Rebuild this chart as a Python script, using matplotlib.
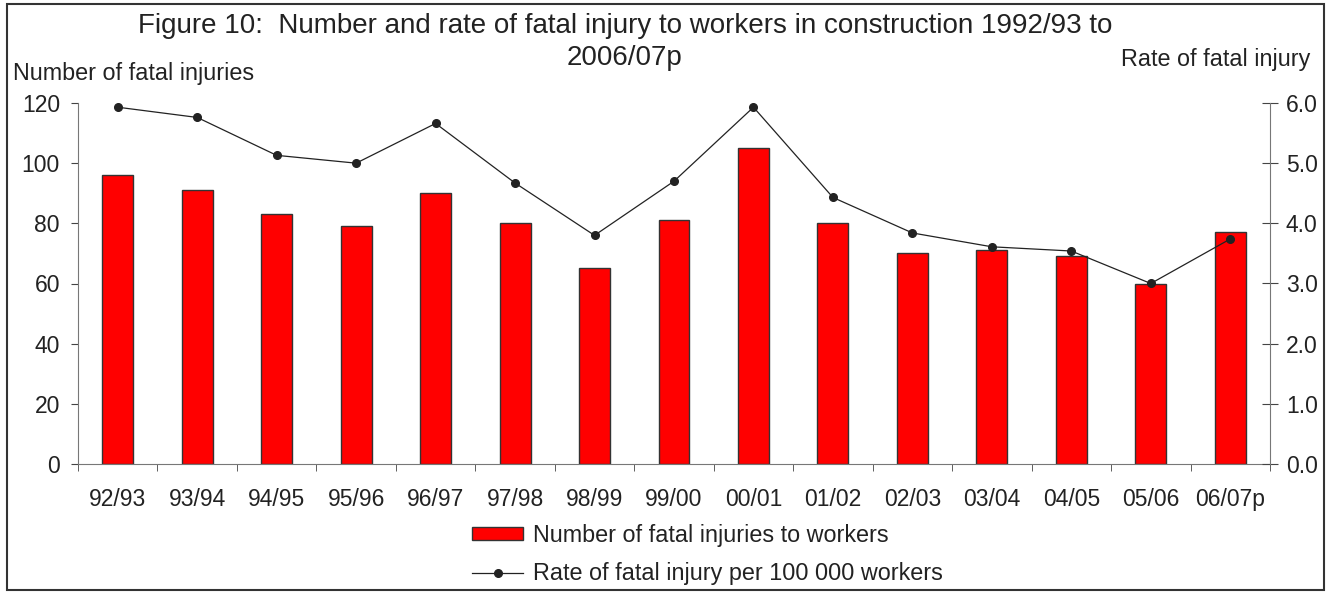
import numpy as np
import matplotlib
matplotlib.use('Agg')
import matplotlib.pyplot as plt
from matplotlib.patches import Rectangle

plt.rcParams['font.family'] = ['Liberation Sans', 'DejaVu Sans']

# data
years = ['92/93', '93/94', '94/95', '95/96', '96/97', '97/98', '98/99', '99/00',
         '00/01', '01/02', '02/03', '03/04', '04/05', '05/06', '06/07p']
fatal_injuries = [96, 91, 83, 79, 90, 80, 65, 81, 105, 80, 70, 71, 69, 60, 77]
fatal_rate = [5.93, 5.76, 5.13, 5.0, 5.66, 4.67, 3.8, 4.7, 5.93, 4.43,
              3.84, 3.61, 3.54, 3.0, 3.74]

W, H = 1334, 592
fig = plt.figure(figsize=(W / 100, H / 100), dpi=100)
text_col = '#222222'
spine_col = '#777777'

# plot area in pixels: left 78, right 1270, top 103, bottom 464
ax = fig.add_axes([78 / W, 1 - 464 / H, (1270 - 78) / W, (464 - 103) / H])
x = np.arange(len(years))

bars = ax.bar(x, fatal_injuries, width=0.39, color='#ff0000', edgecolor='#333333',
              linewidth=1, label='Number of fatal injuries to workers', zorder=2)
ax.set_xlim(-0.5, len(years) - 0.5)
ax.set_ylim(0, 120)
ax.set_yticks(range(0, 121, 20))

ax2 = ax.twinx()
line, = ax2.plot(x, fatal_rate, color='#222222', linewidth=0.9, marker='o',
                 markersize=5.5, label='Rate of fatal injury per 100 000 workers')
ax2.set_ylim(0, 6)
ax2.set_yticks(np.arange(0, 6.01, 1.0))
ax2.set_yticklabels([f'{v:.1f}' for v in np.arange(0, 6.01, 1.0)])

for a in (ax, ax2):
    a.spines['top'].set_visible(False)
ax.spines['right'].set_visible(False)
ax2.spines['left'].set_visible(False)
ax2.spines['bottom'].set_visible(False)
ax.spines['left'].set_color(spine_col)
ax.spines['bottom'].set_color(spine_col)
ax2.spines['right'].set_color(spine_col)

ax.tick_params(axis='y', direction='out', length=5, color='#444444',
               labelsize=16.5, labelcolor=text_col, pad=8)
ax2.tick_params(axis='y', direction='inout', length=11, color='#444444',
                labelsize=16.5, labelcolor=text_col, pad=6)

# category labels centred, tick marks between categories
ax.set_xticks(x)
ax.set_xticklabels(years)
ax.set_xticks(np.arange(-0.5, len(years), 1.0), minor=True)
ax.tick_params(axis='x', which='major', length=0, labelsize=16.5,
               labelcolor=text_col, pad=17)
ax.tick_params(axis='x', which='minor', direction='out', length=5, color='#444444')

# titles and axis captions
fig.text(625 / W, 1 - 33 / H,
         'Figure 10:  Number and rate of fatal injury to workers in construction 1992/93 to',
         ha='center', va='baseline', fontsize=20, color=text_col)
fig.text(625 / W, 1 - 65 / H, '2006/07p', ha='center', va='baseline',
         fontsize=20, color=text_col)
fig.text(13 / W, 1 - 80 / H, 'Number of fatal injuries', ha='left', va='baseline',
         fontsize=16.8, color=text_col)
fig.text(1310 / W, 1 - 66 / H, 'Rate of fatal injury', ha='right', va='baseline',
         fontsize=16.8, color=text_col)

fig.legend(handles=[bars, line], loc='center left',
           bbox_to_anchor=(472 / W, 1 - 554.5 / H), frameon=False, fontsize=16.8,
           handlelength=2.2, handleheight=0.52, handletextpad=0.43,
           labelspacing=0.65, borderpad=0, borderaxespad=0, labelcolor=text_col)

# outer frame
fig.patches.append(Rectangle((7 / W, 2 / H), (1324 - 7) / W, (590 - 4) / H,
                             transform=fig.transFigure, fill=False,
                             edgecolor='#333333', linewidth=1.5))

fig.savefig('out.png', dpi=100)
